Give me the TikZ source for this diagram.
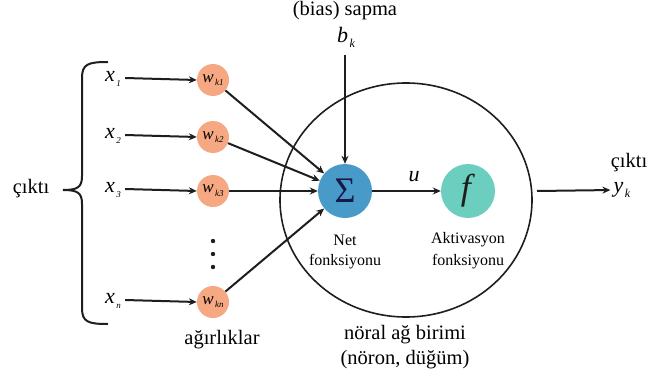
\documentclass[tikz,border=0pt]{standalone}
\usepackage{fontspec}
\setmainfont{Liberation Serif}
\usetikzlibrary{arrows.meta}
\definecolor{wcol}{RGB}{245,168,130}
\definecolor{scol}{RGB}{72,155,200}
\definecolor{fcol}{RGB}{108,206,190}
\definecolor{ink}{RGB}{30,30,30}
% italic variable with a small, lowered italic index
\newcommand{\vsub}[3]{\textit{#1}\kern1.5pt\raisebox{-0.22em}{\fontsize{#3}{#3}\selectfont\textit{#2}}}
\begin{document}
\begin{tikzpicture}[x=1pt,y=-1pt,
  conn/.style={draw=ink,line width=2pt,-{Stealth[length=8pt,width=7pt]}},
  wnode/.style={circle,fill=wcol,minimum size=32pt,inner sep=0pt,font=\fontsize{17}{17}\selectfont},
  bignode/.style={circle,minimum size=54pt,inner sep=0pt},
  lbl/.style={inner sep=0pt,font=\fontsize{20.5}{20.5}\selectfont},
  var/.style={inner sep=0pt,font=\fontsize{22}{22}\selectfont},
  small/.style={inner sep=0pt,font=\fontsize{16}{16}\selectfont}]
\useasboundingbox (0,0) rectangle (648,388);

% neuron body
\draw[ink,line width=1.6pt] (406,200) ellipse [x radius=126, y radius=117];

% weights
\node[wnode] (w1) at (213,80) {\vsub{w}{k1}{9}};
\node[wnode] (w2) at (213,137) {\vsub{w}{k2}{9}};
\node[wnode] (w3) at (213,191) {\vsub{w}{k3}{9}};
\node[wnode] (wn) at (213,302) {\vsub{w}{kn}{9}};

% inputs
\node[var] (x1) at (113,79) {\vsub{x}{1}{9}};
\node[var] (x2) at (113,136) {\vsub{x}{2}{9}};
\node[var] (x3) at (113,190) {\vsub{x}{3}{9}};
\node[var] (xn) at (113,301) {\vsub{x}{n}{9}};

% dots
\fill[ink] (213,241) circle (2.2pt) (213,254) circle (2.2pt) (213,267) circle (2.2pt);

% summation and activation
\node[bignode,fill=scol] (sig) at (345,191) {\fontsize{36}{36}\selectfont\color{ink!80!blue}Σ};
\node[bignode,fill=fcol] (f) at (468,191) {\fontsize{36}{36}\selectfont\color{ink}\textit{f}};

% bias
\node[lbl] (bias) at (345,11) {(bias) sapma};
\node[var] (bk) at (346,37) {\vsub{b}{k}{12}};
\coordinate (bstart) at (345,55);

% output
\coordinate (ostart) at (537,191);
\node[var] (yk) at (622,190) {\vsub{y}{k}{12}};
\node[lbl] (cout) at (629,163) {çıktı};

% connectors
\foreach \i in {1,2,3,n} \draw[conn] (x\i.east) ++(4pt,1pt) -- (w\i.west);
\foreach \i in {1,2,3,n} \draw[conn] (w\i) -- (sig);
\draw[conn] (bstart) -- (sig.north);
\draw[conn] (sig) -- (f);
\node[var] (u) at (414,177) {\textit{u}};
\draw[conn,shorten >=3pt] (ostart) -- (yk.west);

% captions
\node[small] (net1) at (345,240) {Net};
\node[small] (net2) at (345,262) {fonksiyonu};
\node[small] (akt1) at (468,240) {Aktivasyon};
\node[small] (akt2) at (468,262) {fonksiyonu};
\node[lbl] (agr) at (222,340) {ağırlıklar};
\node[lbl] (nab) at (405,335) {nöral ağ birimi};
\node[lbl] (nrn) at (405,360) {(nöron, düğüm)};

% brace and its label
\draw[ink,line width=2pt]
  (108,62) .. controls (88,62) and (82,64) .. (82,78) -- (82,176)
  .. controls (82,187) and (78,190) .. (63,190);
\draw[ink,line width=2pt]
  (108,324) .. controls (88,324) and (82,322) .. (82,308) -- (82,204)
  .. controls (82,193) and (78,190) .. (63,190);
\node[lbl] (cin) at (31,189) {çıktı};
\end{tikzpicture}
\end{document}
